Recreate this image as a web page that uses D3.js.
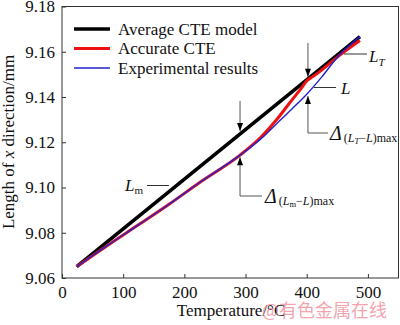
<!DOCTYPE html>
<html><head><meta charset="utf-8">
<script src="https://cdn.jsdelivr.net/npm/d3@7"></script>
<style>body{margin:0;background:#fff}svg{display:block}</style>
</head><body>
<svg id="c" width="400" height="325"></svg>
<script>
// ---- data ----
const xTicks=[0,100,200,300,400,500];
const yTicks=[9.06,9.08,9.10,9.12,9.14,9.16,9.18];
const seriesNames=["Average CTE model","Accurate CTE","Experimental results"];
const avgT=[24,487];
const avgL=[9.065,9.1667];
const accT=[24,75,125,175,225,291,325,350,371,390,401,410,425,453,487];
const accL=[9.065,9.0745,9.0835,9.0926,9.1022,9.1143,9.1222,9.1297,9.137,9.1435,9.1474,9.149,9.152,9.1583,9.165];
const expT=[24,75,125,175,225,291,325,350,375,400,425,453,470,487];
const expL=[9.065,9.0745,9.0835,9.0926,9.1022,9.1143,9.1215,9.128,9.1345,9.1412,9.149,9.1585,9.1628,9.1667];

const serif='"Liberation Serif","Times New Roman",serif';
const svg=d3.select("#c");
const x=d3.scaleLinear().domain([0,550]).range([62,398.5]);
const y=d3.scaleLinear().domain([9.06,9.18]).range([278,6.5]);

// frame
svg.append("rect").attr("x",62).attr("y",6.5).attr("width",336.5).attr("height",271.5)
  .attr("fill","none").attr("stroke","#333").attr("stroke-width",1);

// axes
const xa=svg.append("g").attr("transform","translate(0,278)")
  .call(d3.axisBottom(x).tickValues(xTicks).tickSize(-4).tickPadding(8).tickFormat(d3.format("d")));
const ya=svg.append("g").attr("transform","translate(62,0)")
  .call(d3.axisLeft(y).tickValues(yTicks).tickSize(-4).tickPadding(7).tickFormat(d3.format(".2f")));
[xa,ya].forEach(a=>{
  a.attr("font-family",serif).attr("font-size",17);
  a.select(".domain").remove();
  a.selectAll(".tick line").attr("stroke","#333");
  a.selectAll("text").attr("font-family",serif).attr("font-size",17).attr("fill","#111");
});

// lines
const line=d3.line().x(d=>x(d[0])).y(d=>y(d[1])).curve(d3.curveMonotoneX);
const zip=(a,b)=>a.map((v,i)=>[v,b[i]]);
svg.append("path").datum(zip(avgT,avgL)).attr("d",line).attr("fill","none").attr("stroke","#000").attr("stroke-width",3.6);
svg.append("path").datum(zip(accT,accL)).attr("d",line).attr("fill","none").attr("stroke","#ee1111").attr("stroke-width",3);
svg.append("path").datum(zip(expT,expL)).attr("d",line).attr("fill","none").attr("stroke","#2222cc").attr("stroke-width",1.4);

// legend
const legColors=["#000","#ee1111","#2222cc"], legW=[3.6,3,1.4];
seriesNames.forEach((n,i)=>{
  const yy=29+i*19.5;
  svg.append("line").attr("x1",74).attr("x2",110).attr("y1",yy).attr("y2",yy)
    .attr("stroke",legColors[i]).attr("stroke-width",legW[i]);
  svg.append("text").attr("x",118).attr("y",yy+5.5).attr("font-family",serif).attr("font-size",17)
    .attr("fill","#111").text(n);
});

// axis titles
svg.append("text").attr("x",231).attr("y",316).attr("text-anchor","middle").attr("font-family",serif)
  .attr("font-size",17).attr("fill","#111").text("Temperature/°C");
const yl=svg.append("text").attr("transform","translate(14,142) rotate(-90)").attr("text-anchor","middle")
  .attr("font-family",serif).attr("font-size",17).attr("fill","#111");
yl.append("tspan").text("Length of ");
yl.append("tspan").attr("font-style","italic").text("x");
yl.append("tspan").text(" direction/mm");

// arrows
function arrow(x0,yFrom,yTip){
  svg.append("line").attr("x1",x0).attr("x2",x0).attr("y1",yFrom).attr("y2",yTip)
    .attr("stroke","#555").attr("stroke-width",1);
  const dir=yTip>yFrom?1:-1;
  svg.append("path").attr("d",`M${x0},${yTip} L${x0-3},${yTip-dir*8} L${x0+3},${yTip-dir*8} Z`).attr("fill","#000");
}
function leader(x1,x2,yy){
  svg.append("line").attr("x1",x1).attr("x2",x2).attr("y1",yy).attr("y2",yy).attr("stroke","#333").attr("stroke-width",1);
}
const blackAt=t=>avgL[0]+(avgL[1]-avgL[0])*(t-avgT[0])/(avgT[1]-avgT[0]);
// Lm arrows at 291
const xa1=x(291);
arrow(xa1,y(blackAt(291))-33,y(blackAt(291))-3);
arrow(xa1,196,y(9.1143)+2);
svg.append("line").attr("x1",xa1).attr("x2",262).attr("y1",196).attr("y2",196).attr("stroke","#555").attr("stroke-width",1);
// LT arrows at 402
const xa2=x(402);
arrow(xa2,43,y(blackAt(402))-2);
arrow(xa2,133,y(9.1413)+2);
svg.append("line").attr("x1",xa2).attr("x2",328).attr("y1",133).attr("y2",133).attr("stroke","#555").attr("stroke-width",1);

// labels
leader(344,367,54);
const lt=svg.append("text").attr("x",369).attr("y",62).attr("font-family",serif).attr("font-size",17).attr("fill","#111");
lt.append("tspan").attr("font-style","italic").text("L");
lt.append("tspan").attr("font-style","italic").attr("font-size",11).attr("dy",4).text("T");

leader(314,336,87.5);
svg.append("text").attr("x",341).attr("y",94).attr("font-family",serif).attr("font-size",17).attr("font-style","italic").attr("fill","#111").text("L");

leader(147,169,185.5);
const lm=svg.append("text").attr("x",125).attr("y",191).attr("font-family",serif).attr("font-size",17).attr("fill","#111");
lm.append("tspan").attr("font-style","italic").text("L");
lm.append("tspan").attr("font-size",11).attr("dy",3).text("m");

function delta(x0,y0,sub){
  const t=svg.append("text").attr("x",x0).attr("y",y0).attr("font-family",serif).attr("fill","#111");
  t.append("tspan").attr("font-style","italic").attr("font-size",20).text("Δ");
  t.append("tspan").attr("font-size",12).attr("dx",2).attr("dy",2).text("(");
  t.append("tspan").attr("font-size",12).attr("font-style","italic").text("L");
  t.append("tspan").attr("font-size",8.5).attr("font-style",sub==="T"?"italic":"normal").attr("dy",2).text(sub);
  t.append("tspan").attr("font-size",12).attr("dy",-2).text("−");
  t.append("tspan").attr("font-size",12).attr("font-style","italic").text("L");
  t.append("tspan").attr("font-size",12).text(")max");
}
delta(330,140,"T");
delta(265,203,"m");

// watermark
svg.append("text").attr("x",262).attr("y",317).attr("font-family",'"Noto Sans CJK SC",sans-serif')
  .attr("font-size",18).attr("fill","#f08c98").attr("fill-opacity",0.8).text("@有色金属在线");
</script>
</body></html>
